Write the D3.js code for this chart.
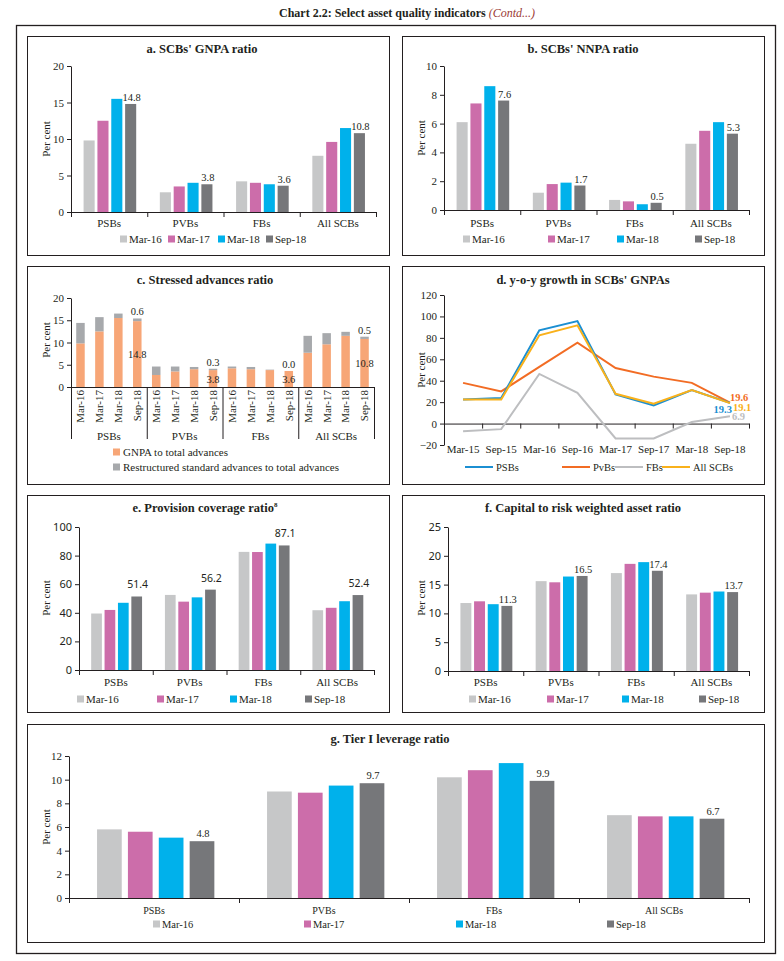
<!DOCTYPE html>
<html>
<head>
<meta charset="utf-8">
<script src="https://cdn.jsdelivr.net/npm/d3@7"></script>
<style>
  body { margin: 0; background: #fff; }
  text { font-family: "Liberation Serif", "DejaVu Serif", serif; fill: #231f20; }
</style>
</head>
<body>
<svg id="chart" width="784" height="961"></svg>
<script>
const banks = ["PSBs", "PVBs", "FBs", "All SCBs"];
const periods = ["Mar-16", "Mar-17", "Mar-18", "Sep-18"];
const periodColors = ["#c6c7c8", "#cc6daa", "#00b1eb", "#76777a"];

// rows = banks, columns = periods
const gnpaRatio = [[9.8, 12.5, 15.5, 14.8], [2.7, 3.5, 4.0, 3.8], [4.2, 4.0, 3.8, 3.6], [7.7, 9.6, 11.5, 10.8]];
const nnpaRatio = [[6.1, 7.4, 8.6, 7.6], [1.2, 1.8, 1.9, 1.7], [0.7, 0.6, 0.4, 0.5], [4.6, 5.5, 6.1, 5.3]];
const restructuredRatio = [[4.6, 3.2, 1.0, 0.6], [1.9, 1.1, 0.5, 0.3], [0.4, 0.5, 0.1, 0.0], [3.8, 2.5, 0.9, 0.5]];
const provisionCoverage = [[39.5, 42.0, 47.0, 51.4], [52.5, 47.8, 50.8, 56.2], [82.6, 82.5, 88.4, 87.1], [41.8, 43.5, 48.1, 52.4]];
const crar = [[11.8, 12.1, 11.6, 11.3], [15.6, 15.4, 16.4, 16.5], [17.0, 18.6, 18.9, 17.4], [13.3, 13.6, 13.8, 13.7]];
const tier1Leverage = [[5.8, 5.6, 5.1, 4.8], [9.0, 8.9, 9.5, 9.7], [10.2, 10.8, 11.4, 9.9], [7.0, 6.9, 6.9, 6.7]];

const growthPeriods = ["Mar-15", "Sep-15", "Mar-16", "Sep-16", "Mar-17", "Sep-17", "Mar-18", "Sep-18"];
const psbGrowth = [22.5, 23.8, 87.0, 95.7, 27.2, 17.0, 31.2, 19.3];
const pvbGrowth = [38.0, 30.0, 53.0, 75.6, 51.9, 43.8, 38.0, 19.6];
const fbGrowth = [-7.1, -5.2, 46.3, 28.7, -13.9, -13.9, 1.5, 6.9];
const allGrowth = [22.5, 22.5, 82.4, 91.7, 27.8, 18.5, 31.2, 19.1];

const ink = "#231f20";
const svg = d3.select("#chart");

function frame(x0, y0, x1, y1, sw) {
    svg.append("rect")
        .attr("x", x0).attr("y", y0)
        .attr("width", x1 - x0).attr("height", y1 - y0)
        .attr("fill", "none").attr("stroke", ink).attr("stroke-width", sw);
}

// main title
const mt = svg.append("text").attr("x", 407).attr("y", 17).attr("text-anchor", "middle")
    .style("font-size", "12px").style("font-weight", "bold");
mt.append("tspan").text("Chart 2.2: Select asset quality indicators ");
mt.append("tspan").style("font-style", "italic").style("font-weight", "normal")
    .attr("fill", "#9c3b36").style("fill", "#9c3b36").text("(Contd...)");

frame(16.5, 25.5, 775.5, 953.5, 1.3);
frame(27.5, 36.5, 389.5, 255.5, 1);
frame(402.5, 36.5, 764.5, 255.5, 1);
frame(27.5, 266.5, 389.5, 484.5, 1);
frame(402.5, 266.5, 764.5, 484.5, 1);
frame(27.5, 495.5, 389.5, 712.5, 1);
frame(402.5, 495.5, 764.5, 712.5, 1);
frame(27.5, 724.5, 764.5, 942.5, 1);

function title(txt, x, y, sup) {
    const t = svg.append("text").attr("x", x).attr("y", y).attr("text-anchor", "middle")
        .style("font-size", "12.5px").style("font-weight", "bold").text(txt);
    if (sup) t.append("tspan").attr("dy", -5).style("font-size", "7px").text(sup);
}

function perCent(x, y) {
    svg.append("text").attr("transform", `translate(${x},${y}) rotate(-90)`)
        .attr("text-anchor", "middle").attr("dy", "0.35em")
        .style("font-size", "11px").text("Per cent");
}

function yAxis(y, x, ticks, font) {
    const g = svg.append("g").attr("transform", `translate(${x},0)`)
        .call(d3.axisLeft(y).tickValues(ticks).tickSize(4).tickSizeOuter(0).tickPadding(3).tickFormat(d3.format("d")));
    g.selectAll("path, line").attr("stroke", ink);
    g.selectAll("text").style("font-family", font || null).style("font-size", "11px").style("fill", ink);
}

function xBoundaries(left, right, n, y0, len) {
    const xb = d3.scaleLinear().domain([0, n]).range([left, right]);
    const g = svg.append("g").attr("transform", `translate(0,${y0})`)
        .call(d3.axisBottom(xb).tickValues(d3.range(n + 1)).tickSize(len).tickSizeOuter(0).tickFormat(""));
    g.selectAll("path, line").attr("stroke", ink);
}

function squareLegend(xs, yc, fs) {
    const g = svg.append("g").selectAll("g").data(periods).join("g")
        .attr("transform", (d, i) => `translate(${xs[i]},${yc})`);
    g.append("rect").attr("x", 0).attr("y", -3.5).attr("width", 7).attr("height", 7)
        .attr("fill", (d, i) => periodColors[i]);
    g.append("text").attr("x", 9).attr("y", 4).style("font-size", fs || "11px").text(d => d);
}

function barPanel(o) {
    const x0 = d3.scaleBand().domain(banks).range([o.left, o.right]);
    const bw = x0.bandwidth();
    const x1 = d3.scaleBand().domain(periods).range([bw * 0.165, bw * 0.855]).paddingInner(0.2);
    const y = d3.scaleLinear().domain([0, o.max]).range([o.bottom, o.top]);

    const grp = svg.append("g").selectAll("g").data(o.data).join("g")
        .attr("transform", (d, i) => `translate(${x0(banks[i])},0)`);
    grp.selectAll("rect").data(d => d).join("rect")
        .attr("x", (d, j) => x1(periods[j]))
        .attr("y", d => y(d))
        .attr("width", x1.bandwidth())
        .attr("height", d => y(0) - y(d))
        .attr("fill", (d, j) => periodColors[j]);
    grp.append("text")
        .attr("x", x1("Sep-18") + x1.bandwidth() / 2 + 1)
        .attr("y", d => y(d[3]) - o.labelGap)
        .attr("text-anchor", "middle")
        .style("font-family", o.labelFont || null)
        .style("font-size", "10.5px")
        .text(d => d[3].toFixed(1));

    yAxis(y, o.left, o.ticks, o.tickFont);
    xBoundaries(o.left, o.right, banks.length, o.bottom, 5);

    svg.append("g").selectAll("text").data(banks).join("text")
        .attr("x", d => x0(d) + bw / 2).attr("y", o.catY)
        .attr("text-anchor", "middle").style("font-size", o.catSize || "11px").text(d => d);

    title(o.title, o.tx, o.ty, o.sup);
    perCent(o.perX, o.perY);
    squareLegend(o.legendX, o.legendY, o.legendSize);
}

// a
barPanel({data: gnpaRatio, left: 71, right: 376, top: 66, bottom: 212, max: 20, ticks: [0, 5, 10, 15, 20],
    title: "a. SCBs' GNPA ratio", tx: 202, ty: 53, catY: 227, legendX: [120, 168, 218, 266], legendY: 239,
    perX: 46, perY: 139, labelGap: 3});

// b
barPanel({data: nnpaRatio, left: 444, right: 749, top: 66, bottom: 210, max: 10, ticks: [0, 2, 4, 6, 8, 10],
    title: "b. SCBs' NNPA ratio", tx: 583, ty: 53, catY: 227, legendX: [463, 548, 617, 695], legendY: 239,
    perX: 421, perY: 138, labelGap: 3});

// e
barPanel({data: provisionCoverage, left: 79, right: 374, top: 527, bottom: 670, max: 100, ticks: [0, 20, 40, 60, 80, 100],
    title: "e. Provision coverage ratio", sup: "8", tx: 205, ty: 512, catY: 686, legendX: [77, 157, 230, 305], legendY: 699,
    perX: 46, perY: 598, labelGap: 8, tickFont: "'Noto Sans', sans-serif", labelFont: "'Noto Sans', sans-serif"});

// f
barPanel({data: crar, left: 448, right: 749, top: 527, bottom: 671, max: 25, ticks: [0, 5, 10, 15, 20, 25],
    title: "f. Capital to risk weighted asset ratio", tx: 583, ty: 512, catY: 686, legendX: [469, 547, 622, 699], legendY: 699,
    perX: 421, perY: 598, labelGap: 3, tickFont: "'Noto Sans', sans-serif"});

// g
barPanel({data: tier1Leverage, left: 69, right: 749, top: 756, bottom: 898, max: 12, ticks: [0, 2, 4, 6, 8, 10, 12],
    title: "g. Tier I leverage ratio", tx: 390, ty: 743, catY: 914, catSize: "10px", legendX: [153, 304, 456, 607], legendY: 924,
    legendSize: "10.5px", perX: 46, perY: 827, labelGap: 4});

// c. stacked bars
(function () {
    const left = 71, right = 374, top = 298, bottom = 387;
    const x0 = d3.scaleBand().domain(banks).range([left, right]);
    const x1 = d3.scaleBand().domain(periods).range([0, x0.bandwidth()]);
    const y = d3.scaleLinear().domain([0, 20]).range([bottom, top]);
    const barW = 8.5;

    const grp = svg.append("g").selectAll("g").data(banks).join("g")
        .attr("transform", d => `translate(${x0(d)},0)`);
    const cell = grp.selectAll("g").data((d, i) => periods.map((p, j) => ({p, g: gnpaRatio[i][j], r: restructuredRatio[i][j]})))
        .join("g").attr("transform", d => `translate(${x1(d.p) + x1.bandwidth() / 2},0)`);
    cell.append("rect").attr("x", -barW / 2).attr("width", barW)
        .attr("y", d => y(d.g)).attr("height", d => y(0) - y(d.g)).attr("fill", "#f7a677");
    cell.append("rect").attr("x", -barW / 2).attr("width", barW)
        .attr("y", d => y(d.g + d.r)).attr("height", d => y(d.g) - y(d.g + d.r)).attr("fill", "#a7a9ac");
    const last = cell.filter(d => d.p === "Sep-18");
    last.append("text").attr("text-anchor", "middle").attr("y", d => y(d.g + d.r) - 3)
        .style("font-size", "10.5px").text(d => d.r.toFixed(1));
    last.append("text").attr("text-anchor", "middle").attr("y", d => y(d.g / 2) + 4)
        .style("font-size", "10.5px").text(d => d.g.toFixed(1));
    cell.append("text").attr("transform", `translate(0,${bottom + 3}) rotate(-90)`)
        .attr("text-anchor", "end").attr("dy", "0.35em").style("font-size", "11px").text(d => d.p);

    yAxis(y, left, [0, 5, 10, 15, 20]);
    xBoundaries(left, right, banks.length, bottom, 52);

    svg.append("g").selectAll("text").data(banks).join("text")
        .attr("x", d => x0(d) + x0.bandwidth() / 2).attr("y", 440)
        .attr("text-anchor", "middle").style("font-size", "11px").text(d => d);

    title("c. Stressed advances ratio", 205, 284);
    perCent(46, 340);

    const leg = [["GNPA to total advances", "#f7a677"], ["Restructured standard advances to total advances", "#a7a9ac"]];
    const lg = svg.append("g").selectAll("g").data(leg).join("g")
        .attr("transform", (d, i) => `translate(113,${452 + i * 15})`);
    lg.append("rect").attr("y", -3.5).attr("width", 7).attr("height", 7).attr("fill", d => d[1]);
    lg.append("text").attr("x", 10).attr("y", 4).style("font-size", "11px").text(d => d[0]);
})();

// d. lines
(function () {
    const left = 444, right = 749, top = 295, bottom = 445;
    const x = d3.scaleBand().domain(growthPeriods).range([left, right]);
    const y = d3.scaleLinear().domain([-20, 120]).range([bottom, top]);
    const cx = p => x(p) + x.bandwidth() / 2;

    yAxis(y, left, d3.range(-20, 121, 20));
    xBoundaries(left, right, growthPeriods.length, y(0), 5);

    svg.append("g").selectAll("text").data(growthPeriods).join("text")
        .attr("x", cx).attr("y", 453).attr("text-anchor", "middle").style("font-size", "11px").text(d => d);

    const series = [
        {name: "PvBs", vals: pvbGrowth, color: "#f26c24", lx: 562, dx: 0, dy: -2, anchor: "start"},
        {name: "FBs", vals: fbGrowth, color: "#bdbec0", lx: 615, dx: 2, dy: 4, anchor: "start"},
        {name: "PSBs", vals: psbGrowth, color: "#1b8fd2", lx: 465, dx: 2, dy: 10.5, anchor: "end"},
        {name: "All SCBs", vals: allGrowth, color: "#f9b11b", lx: 662, dx: 3, dy: 7.5, anchor: "start"}
    ];
    const line = d3.line().x((d, i) => cx(growthPeriods[i])).y(d => y(d));
    svg.append("g").selectAll("path").data(series).join("path")
        .attr("d", s => line(s.vals)).attr("fill", "none")
        .attr("stroke", s => s.color).attr("stroke-width", 2);

    const lastX = cx(growthPeriods[growthPeriods.length - 1]);
    svg.append("g").selectAll("text").data(series).join("text")
        .attr("x", s => lastX + s.dx).attr("y", s => y(s.vals[s.vals.length - 1]) + s.dy)
        .attr("text-anchor", s => s.anchor)
        .style("font-size", "10.5px").style("font-weight", "bold")
        .style("fill", s => s.color).text(s => s.vals[s.vals.length - 1].toFixed(1));

    title("d. y-o-y growth in SCBs' GNPAs", 583, 284);
    perCent(421, 370);

    const order = [series[2], series[0], series[1], series[3]];
    const lg = svg.append("g").selectAll("g").data(order).join("g")
        .attr("transform", s => `translate(${s.lx},467)`);
    lg.append("line").attr("x1", 0).attr("x2", 28).attr("stroke", s => s.color).attr("stroke-width", 2);
    lg.append("text").attr("x", 31).attr("y", 4).style("font-size", "10.5px").text(s => s.name);
})();
</script>
</body>
</html>
